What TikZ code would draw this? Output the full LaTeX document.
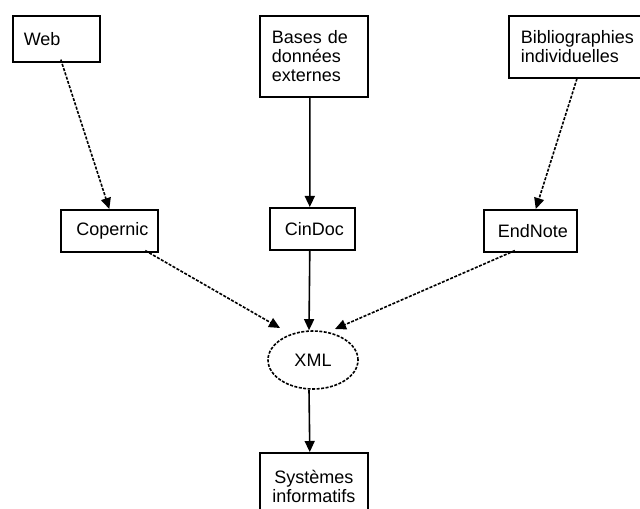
\documentclass[tikz,border=0pt]{standalone}
\usepackage{fontspec}
\setmainfont{Liberation Sans}
\usetikzlibrary{arrows.meta,shapes.geometric}
\begin{document}
\begin{tikzpicture}[x=1bp,y=-1bp,
  every node/.style={font=\fontsize{18bp}{19bp}\selectfont, text=black},
  boxl/.style={draw, line width=1.6bp, anchor=north west, align=left, inner ysep=0pt},
  boxc/.style={draw, line width=1.6bp, anchor=north west, align=center, inner sep=0pt},
  tip/.style={-{Triangle[length=11bp,width=10bp]}},
  solidarrow/.style={tip, line width=1.6bp},
  dasharrow/.style={tip, line width=1.6bp, dash pattern=on 3bp off 1.5bp}]
\useasboundingbox (0,0) rectangle (640,509);
% boxes
\node[boxl, inner xsep=11bp, text width=65bp, minimum height=46bp] (web) at (12,15) {Web};
\node[boxl, inner xsep=12bp, text width=84bp, minimum height=81bp] (bases) at (259,15) {Bases de\\données\\externes};
\node[boxl, inner xsep=12bp, text width=116bp, minimum height=62bp] (biblio) at (508,15) {Bibliographies\\individuelles};
\node[boxc, minimum width=97bp, minimum height=42bp] (cop) at (60,209) {\hspace{6bp}Copernic};
\node[boxc, minimum width=85bp, minimum height=42bp] (cin) at (269,207) {\hspace{4bp}CinDoc};
\node[boxc, minimum width=93bp, minimum height=42bp] (end) at (483,209) {\hspace{5bp}EndNote};
\node[draw, ellipse, line width=1.6bp, dash pattern=on 3bp off 1.5bp, inner sep=0pt,
      minimum width=90bp, minimum height=58bp] (xml) at (313,360) {XML};
\node[boxc, minimum width=108bp, minimum height=68bp] (sys) at (259,452) {Systèmes\\informatifs};
% connectors
\draw[dasharrow] ([xshift=4.5bp,yshift=3bp]web.south) -- (cop.north);
\draw[solidarrow] ([xshift=-4bp]bases.south) -- ([xshift=-2.5bp]cin.north);
\draw[dasharrow] ([xshift=-1bp]biblio.south -| 578,0) -- ([xshift=5.5bp]end.north);
\draw[dasharrow] ([xshift=36bp,yshift=2bp]cop.south) -- (280,328);
\draw[solidarrow] ([xshift=-2.5bp]cin.south) -- ([xshift=-4bp]xml.north);
\draw[dasharrow] ([xshift=-15.5bp,yshift=2bp]end.south) -- (335,329);
\draw[solidarrow] ([xshift=-4bp]xml.south) -- ([xshift=-4bp]sys.north);
\end{tikzpicture}
\end{document}
